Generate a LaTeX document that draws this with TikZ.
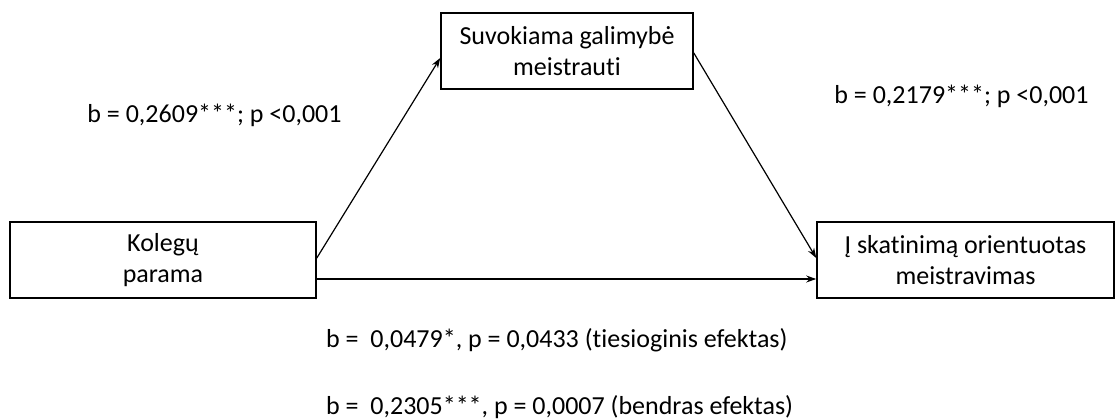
\documentclass[tikz,border=0pt]{standalone}
\usepackage{fontspec}
\setmainfont{Carlito}[Ligatures=NoCommon]
\usetikzlibrary{arrows.meta}
\newlength{\du}
\setlength{\du}{1pt}
\tikzset{
  blokas/.style={draw, line width=1.6\du, align=center, inner sep=0pt,
    minimum height=76\du, font=\fontsize{26}{31}\selectfont},
  rodykle/.style={line width=1.2\du, -{Stealth[length=10pt,width=7pt]}},
  koef/.style={inner sep=0pt, font=\fontsize{26}{31}\selectfont}
}
\begin{document}
\begin{tikzpicture}
\useasboundingbox (0\du,0\du) rectangle (1115\du,-419\du);
% boxes
\node[blokas, minimum width=306\du] (kolegos) at (163\du,-260\du){Kolegų\\parama};
\node[blokas, minimum width=252\du] (galimybe) at (567\du,-51\du){Suvokiama galimybė\\meistrauti};
\node[blokas, minimum width=297\du] (meistravimas) at (965.5\du,-260\du){Į skatinimą orientuotas\\meistravimas};
% arrows
\draw[rodykle] ([yshift=2\du]kolegos.east)--([yshift=-7\du]galimybe.west);
\draw[rodykle] ([yshift=-2\du]galimybe.east)--([yshift=2\du]meistravimas.west);
\draw[rodykle] ([yshift=-19\du]kolegos.east)--([yshift=-19\du]meistravimas.west);
% coefficients
\node[koef, anchor=base] (kelias_a) at (214.5\du,-123\du){b = 0,2609***; p <0,001};
\node[koef, anchor=base] (kelias_b) at (961.5\du,-104\du){b = 0,2179***; p <0,001};
\node[koef, anchor=base west] (tiesioginis) at (326\du,-347\du){b =\ \ 0,0479*, p = 0,0433 (tiesioginis efektas)};
\node[koef, anchor=base west] (bendras) at (326\du,-414\du){b =\ \ 0,2305***, p = 0,0007 (bendras efektas)};
\end{tikzpicture}
\end{document}
